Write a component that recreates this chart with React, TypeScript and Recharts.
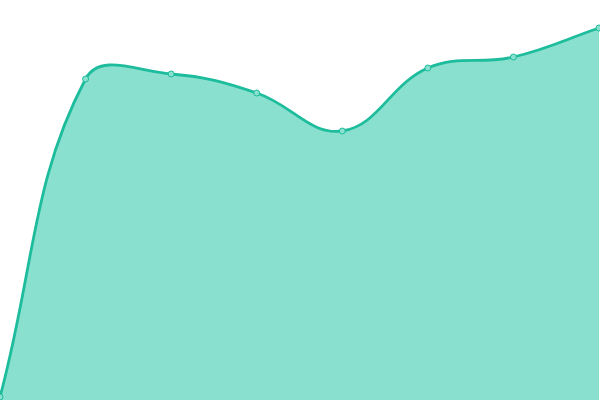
import { AreaChart, Area, XAxis, YAxis } from 'recharts';

const labels = ['A', 'B', 'C', 'D', 'E', 'F', 'G', 'H'];
const values = [3, 321, 326, 307, 269, 332, 343, 372];

const data = labels.map((label, i) => ({ label, value: values[i] }));

// distance-weighted spline (tension 0.4), same shape as the original chart's smoothing
function splineCurve(tension: number) {
  return (context: any) => {
    let pts: [number, number][] = [];
    let line = NaN;
    return {
      areaStart() {
        line = 0;
      },
      areaEnd() {
        line = NaN;
      },
      lineStart() {
        pts = [];
      },
      point(x: number, y: number) {
        pts.push([+x, +y]);
      },
      lineEnd() {
        const n = pts.length;
        if (n > 0) {
          if (line) context.lineTo(pts[0][0], pts[0][1]);
          else context.moveTo(pts[0][0], pts[0][1]);
          const ctrl = pts.map((cur, i) => {
            const prev = pts[Math.max(0, i - 1)];
            const next = pts[Math.min(n - 1, i + 1)];
            const d01 = Math.hypot(cur[0] - prev[0], cur[1] - prev[1]);
            const d12 = Math.hypot(next[0] - cur[0], next[1] - cur[1]);
            const sum = d01 + d12 || 1;
            const fa = (tension * d01) / sum;
            const fb = (tension * d12) / sum;
            const dx = next[0] - prev[0];
            const dy = next[1] - prev[1];
            return {
              px: cur[0] - fa * dx,
              py: cur[1] - fa * dy,
              nx: cur[0] + fb * dx,
              ny: cur[1] + fb * dy,
            };
          });
          for (let i = 0; i < n - 1; i++) {
            context.bezierCurveTo(ctrl[i].nx, ctrl[i].ny, ctrl[i + 1].px, ctrl[i + 1].py, pts[i + 1][0], pts[i + 1][1]);
          }
        }
        if (line || (line !== 0 && n === 1)) context.closePath();
        line = 1 - line;
      },
    };
  };
}

const curve = splineCurve(0.4);

export default function App() {
  return (
    <div style={{ position: 'absolute', top: 0, left: 0, width: 600, height: 400, background: '#fff' }}>
      <AreaChart width={600} height={400} data={data} margin={{ top: 0, right: 1, bottom: 0, left: 0 }}>
        <XAxis dataKey="label" hide padding={{ left: 0, right: 0 }} />
        <YAxis hide domain={[0, 400]} />
        <Area
          type={curve as any}
          dataKey="value"
          stroke="#1dbc9c"
          strokeWidth={2.8}
          fill="#89e0ce"
          fillOpacity={1}
          dot={{ r: 3, fill: '#89e0ce', stroke: '#1dbc9c', strokeWidth: 1 }}
          activeDot={false}
          isAnimationActive={false}
        />
      </AreaChart>
    </div>
  );
}
